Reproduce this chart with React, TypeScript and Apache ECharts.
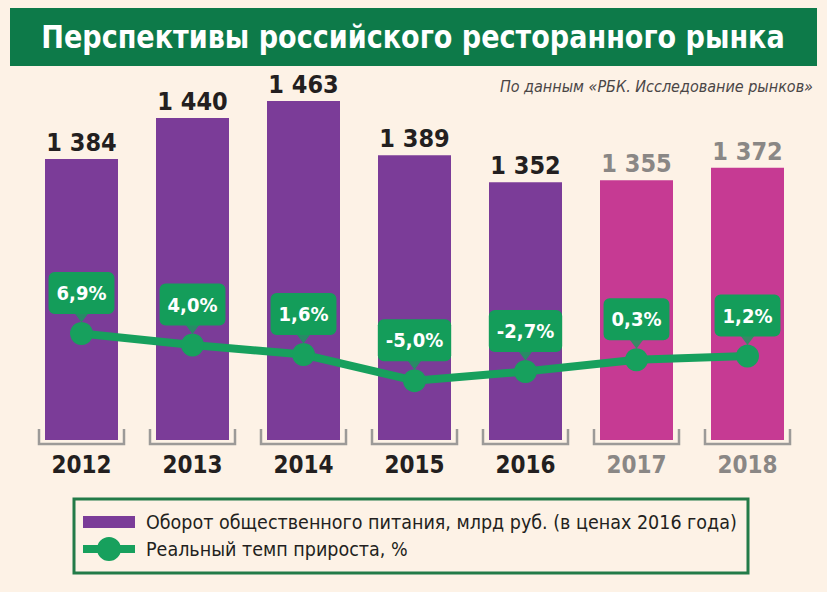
import React, { useEffect, useRef } from "react";
import * as echarts from "echarts";

const years = ["2012", "2013", "2014", "2015", "2016", "2017", "2018"];
const turnover = [1384, 1440, 1463, 1389, 1352, 1355, 1372];
const growth = [6.9, 4.0, 1.6, -5.0, -2.7, 0.3, 1.2];
const forecastStart = 5;
const titleText = "Перспективы российского ресторанного рынка";
const sourceText = "По данным «РБК. Исследование рынков»";
const legendBar = "Оборот общественного питания, млрд руб. (в ценах 2016 года)";
const legendLine = "Реальный темп прироста, %";

const PURPLE = "#7B3C98";
const MAGENTA = "#C63A93";
const GREEN = "#17A05D";
const BANNER = "#0D7A49";
const BG = "#FDF2E6";
const DARK = "#231F20";
const GREY = "#8A8785";
const FONT = "'Liberation Sans Narrow', 'DejaVu Sans Condensed', Roboto, sans-serif";

const RECT_ICON =
  "path://M0,0h0.01v0.01h-0.01z M0,6h52v12h-52z M51.99,23.99h0.01v0.01h-0.01z";
const LINE_ICON =
  "path://M0,8h52v8h-52z M38,12a12,12 0 1,1 -24,0a12,12 0 1,1 24,0z";

const fmt = (v: number) => String(v).replace(/\B(?=(\d{3})+(?!\d))/g, " ");
const pct = (v: number) => v.toFixed(1).replace(".", ",") + "%";

export default function App() {
  const ref = useRef<HTMLDivElement>(null);
  useEffect(() => {
    if (!ref.current) return;
    const chart = echarts.init(ref.current, null, { renderer: "svg" });
    chart.setOption({
      animation: false,
      backgroundColor: BG,
      textStyle: { fontFamily: FONT },
      grid: { left: 26, top: 74, width: 777, height: 366 },
      xAxis: {
        type: "category",
        data: years.map((y, i) => ({
          value: y,
          textStyle: { color: i >= forecastStart ? GREY : DARK },
        })),
        axisLine: { show: false },
        axisTick: { show: false },
        axisLabel: { fontSize: 24, fontWeight: "bold", margin: 13, fontFamily: FONT },
      },
      yAxis: [
        { type: "value", min: 1000, max: 1500, show: false },
        { type: "value", min: -20, max: 72.5, show: false },
      ],
      legend: {
        orient: "vertical",
        left: 83,
        top: 510,
        itemWidth: 52,
        itemHeight: 24,
        itemGap: 3,
        padding: 0,
        textStyle: {
          fontSize: 19.5,
          color: DARK,
          fontFamily: FONT,
          padding: [0, 0, 0, 6],
        },
        data: [
          { name: legendBar, icon: RECT_ICON },
          { name: legendLine, icon: LINE_ICON },
        ],
      },
      graphic: [
        {
          type: "rect",
          shape: { x: 10, y: 8, width: 807, height: 58 },
          style: { fill: BANNER },
        },
        {
          type: "text",
          x: 413,
          y: 37,
          scaleX: 0.94,
          style: {
            text: titleText,
            fill: "#fff",
            font: `bold 32px ${FONT}`,
            textAlign: "center",
            textVerticalAlign: "middle",
          },
        },
        {
          type: "text",
          x: 813,
          y: 86,
          style: {
            text: sourceText,
            fill: "#4A4646",
            font: `italic 16px ${FONT}`,
            textAlign: "right",
            textVerticalAlign: "middle",
          },
        },
        {
          type: "rect",
          shape: { x: 74, y: 499, width: 674, height: 74 },
          style: { fill: "none", stroke: "#237B48", lineWidth: 3 },
        },
      ],
      series: [
        {
          type: "custom",
          name: "brackets",
          clip: false,
          silent: true,
          data: years.map((_, i) => [i, 1000]),
          renderItem: (params: any, api: any) => {
            const p = api.coord([api.value(0), api.value(1)]);
            const h = 42.5;
            return {
              type: "polyline",
              shape: {
                points: [
                  [p[0] - h, p[1] - 11],
                  [p[0] - h, p[1] + 4],
                  [p[0] + h, p[1] + 4],
                  [p[0] + h, p[1] - 11],
                ],
              },
              style: { stroke: "#9C9A98", lineWidth: 2.5, fill: "none" },
            };
          },
        },
        {
          type: "bar",
          name: legendBar,
          barWidth: 73,
          itemStyle: { color: PURPLE },
          data: turnover.map((v, i) => ({
            value: v,
            itemStyle: { color: i >= forecastStart ? MAGENTA : PURPLE },
            label: { color: i >= forecastStart ? GREY : DARK },
          })),
          label: {
            show: true,
            position: "top",
            distance: 4,
            fontSize: 25,
            fontWeight: "bold",
            fontFamily: FONT,
            formatter: (p: any) => fmt(p.value),
          },
        },
        {
          type: "line",
          name: legendLine,
          yAxisIndex: 1,
          data: growth,
          symbol: "circle",
          symbolSize: 23,
          z: 4,
          lineStyle: { color: GREEN, width: 8 },
          itemStyle: { color: GREEN },
          label: {
            show: true,
            position: "top",
            distance: 8,
            color: "#fff",
            fontSize: 20,
            fontWeight: "bold",
            fontFamily: FONT,
            backgroundColor: "#149D5A",
            borderRadius: 6,
            padding: [9, 8, 9, 8],
            lineHeight: 24,
            formatter: (p: any) => pct(p.value),
          },
        },
        {
          type: "scatter",
          name: "pointers",
          yAxisIndex: 1,
          data: growth,
          symbol: "triangle",
          symbolRotate: 180,
          symbolSize: [15, 10],
          symbolOffset: [0, -16],
          itemStyle: { color: "#149D5A" },
          silent: true,
          z: 3,
        },
      ],
    });
    return () => chart.dispose();
  }, []);
  return (
    <div
      ref={ref}
      style={{ position: "absolute", left: 0, top: 0, width: 827, height: 592 }}
    />
  );
}
